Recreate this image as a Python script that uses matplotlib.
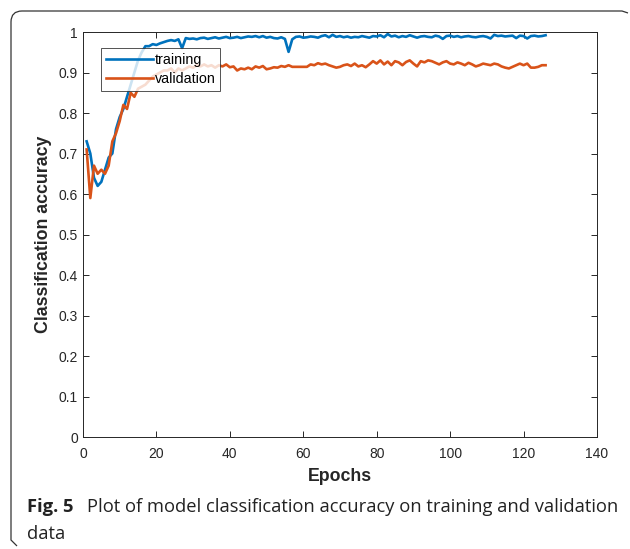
import numpy as np
import matplotlib
matplotlib.use('Agg')
import matplotlib.pyplot as plt
from matplotlib.path import Path
from matplotlib.patches import PathPatch

# accuracy values (epochs 1..126)
training = [
    0.73, 0.70, 0.64, 0.62, 0.63, 0.66, 0.69, 0.70, 0.76, 0.79,
    0.81, 0.84, 0.87, 0.90, 0.93, 0.95, 0.965, 0.965, 0.97, 0.968,
    0.972, 0.975, 0.978, 0.980, 0.978, 0.982, 0.960, 0.985, 0.983, 0.984,
    0.982, 0.985, 0.986, 0.983, 0.985, 0.987, 0.984, 0.986, 0.988, 0.985,
    0.986, 0.988, 0.985, 0.987, 0.989, 0.988, 0.990, 0.987, 0.990, 0.986,
    0.988, 0.985, 0.984, 0.987, 0.983, 0.951, 0.982, 0.988, 0.989, 0.986,
    0.987, 0.989, 0.988, 0.986, 0.990, 0.992, 0.987, 0.993, 0.988, 0.990,
    0.987, 0.989, 0.986, 0.988, 0.987, 0.990, 0.988, 0.986, 0.990, 0.989,
    0.992, 0.987, 0.995, 0.989, 0.991, 0.987, 0.990, 0.988, 0.992, 0.989,
    0.986, 0.989, 0.990, 0.988, 0.987, 0.991, 0.989, 0.983, 0.990, 0.991,
    0.988, 0.990, 0.987, 0.989, 0.990, 0.988, 0.987, 0.989, 0.990, 0.988,
    0.984, 0.993, 0.990, 0.991, 0.989, 0.990, 0.991, 0.985, 0.991, 0.990,
    0.984, 0.990, 0.991, 0.989, 0.990, 0.992,
]
validation = [
    0.71, 0.59, 0.67, 0.65, 0.66, 0.65, 0.67, 0.73, 0.75, 0.78,
    0.82, 0.81, 0.85, 0.84, 0.86, 0.865, 0.87, 0.88, 0.89, 0.895,
    0.90, 0.905, 0.905, 0.91, 0.90, 0.91, 0.905, 0.91, 0.915, 0.912,
    0.918, 0.915, 0.92, 0.915, 0.918, 0.912, 0.918, 0.915, 0.92, 0.913,
    0.915, 0.905, 0.91, 0.908, 0.912, 0.908, 0.915, 0.912, 0.916, 0.908,
    0.91, 0.913, 0.912, 0.916, 0.914, 0.918, 0.914, 0.914, 0.914, 0.914,
    0.914, 0.92, 0.918, 0.923, 0.92, 0.922, 0.918, 0.915, 0.912, 0.914,
    0.918, 0.92, 0.916, 0.922, 0.915, 0.918, 0.913, 0.92, 0.928, 0.922,
    0.93, 0.92, 0.927, 0.918, 0.928, 0.925, 0.918, 0.926, 0.93, 0.922,
    0.915, 0.928, 0.925, 0.93, 0.928, 0.924, 0.92, 0.925, 0.928, 0.922,
    0.92, 0.925, 0.922, 0.918, 0.924, 0.92, 0.915, 0.918, 0.922, 0.92,
    0.918, 0.922, 0.92, 0.915, 0.912, 0.91, 0.914, 0.918, 0.922, 0.918,
    0.922, 0.912, 0.912, 0.914, 0.918, 0.918,
]
epochs = np.arange(1, len(training) + 1)

xticks = [0, 20, 40, 60, 80, 100, 120, 140]
yticks = [0, 0.1, 0.2, 0.3, 0.4, 0.5, 0.6, 0.7, 0.8, 0.9, 1]
ytick_labels = ['0', '0.1', '0.2', '0.3', '0.4', '0.5', '0.6', '0.7', '0.8', '0.9', '1']

plt.rcParams['font.family'] = ['Liberation Sans', 'DejaVu Sans']

W, H = 630, 549
fig = plt.figure(figsize=(W / 100, H / 100), dpi=100)

# page frame: only left and top edges, rounded top-left corner
def fx(px):
    return px / W

def fy(py):
    return 1 - py / H

verts = [(fx(17), fy(546)), (fx(11), fy(540)),
         (fx(11), fy(22)), (fx(11), fy(11)), (fx(22), fy(11)),
         (fx(622), fy(11)), (fx(628), fy(13))]
codes = [Path.MOVETO, Path.LINETO,
         Path.LINETO, Path.CURVE3, Path.CURVE3,
         Path.LINETO, Path.LINETO]
fig.patches.append(PathPatch(Path(verts, codes), transform=fig.transFigure,
                             fill=False, edgecolor='#333333', linewidth=0.9))

ax = fig.add_axes([0.1317, 0.204, 0.8159, 0.7377])
ax.plot(epochs, training, color='#0072BD', linewidth=1.9, label='training')
ax.plot(epochs, validation, color='#D95319', linewidth=1.9, label='validation')

ax.set_xlim(0, 140)
ax.set_ylim(0, 1)
ax.set_xticks(xticks)
ax.set_yticks(yticks)
ax.set_yticklabels(ytick_labels)
ax.tick_params(direction='in', top=True, right=True, length=4, width=0.7,
               labelsize=10, colors='#262626')
ax.tick_params(axis='x', pad=7)
ax.tick_params(axis='y', pad=3.5)
for s in ax.spines.values():
    s.set_color('#262626')
    s.set_linewidth(0.7)

ax.set_xlabel('Epochs', fontsize=12.8, fontweight='bold', color='#262626', labelpad=5)
ax.set_ylabel('Classification accuracy', fontsize=12.8, fontweight='bold', color='#262626', labelpad=5)

leg = ax.legend(loc='upper left', bbox_to_anchor=(0.035, 0.961), fontsize=10.3,
                frameon=True, fancybox=False, edgecolor='#262626', handlelength=3.3,
                borderpad=0.35, labelspacing=0.35, handletextpad=0.1, borderaxespad=0)
leg.get_frame().set_linewidth(0.7)

# caption
cap_font = ['Open Sans', 'DejaVu Sans']
fig.text(fx(27), fy(512), 'Fig. 5', fontsize=13.2, fontweight='bold', family=cap_font, color='#222222')
fig.text(fx(87), fy(512), 'Plot of model classification accuracy on training and validation',
         fontsize=13.2, family=cap_font, color='#222222')
fig.text(fx(27), fy(539), 'data', fontsize=13.2, family=cap_font, color='#222222')

fig.savefig('out.png', dpi=100)
